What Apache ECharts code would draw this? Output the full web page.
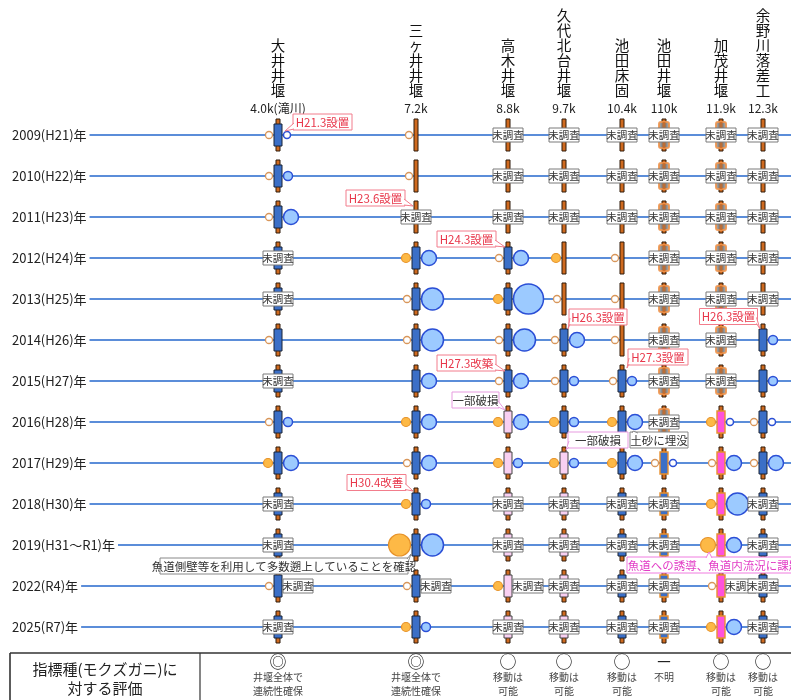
<!DOCTYPE html>
<html><head><meta charset="utf-8">
<script src="https://cdn.jsdelivr.net/npm/echarts@6/dist/echarts.min.js"></script>
<style>html,body{margin:0;padding:0;background:#fff}#c{width:791px;height:700px}</style>
</head><body><div id="c"></div>
<script>
// ---------- DATA ----------
const years = ['2009(H21)年','2010(H22)年','2011(H23)年','2012(H24)年','2013(H25)年','2014(H26)年','2015(H27)年','2016(H28)年','2017(H29)年','2018(H30)年','2019(H31～R1)年','2022(R4)年','2025(R7)年'];
const weirNames = ['大井井堰','三ヶ井井堰','高木井堰','久代北台井堰','池田床固','池田井堰','加茂井堰','余野川落差工'];
const weirKm = ['4.0k(滝川)','7.2k','8.8k','9.7k','10.4k','110k','11.9k','12.3k'];
// fishway type per year: N none, B fishway, P partly damaged, M new type, G old type, O buried
const fishwayType = [
  'BBBBBBBBBBBBB',
  'NNNBBBBBBBBBB',
  'NNNBBBBPPPPPP',
  'NNNNNBBBPPPPP',
  'NNNNNNBBBBBBB',
  'GGGGGGGGOOOOO',
  'GGGGGGGMMMMMM',
  'NNNNNBBBBBBBB'
];
// survey status: U unsurveyed, R upstream unsurveyed, - surveyed
const surveyStatus = [
  '---UU-U--UURU',
  '--U--------R-',
  'UUU------UURU',
  'UUU------UUUU',
  'UUU------UUUU',
  'UUUUUUUU-UUUU',
  'UUUUUUU----R-',
  'UUUUU----UUUU'
];
// downstream / upstream count classes (0 = none found, 1..4 = increasing), null = not shown
const n = null;
const downstream = [
  [0,0,0,n,n,0,n,0,1,n,n,0,n],
  [0,0,n,1,0,0,n,1,0,1,3,0,1],
  [n,n,n,0,1,0,0,1,1,n,n,1,n],
  [n,n,n,1,0,0,0,1,1,n,n,n,n],
  [n,n,n,0,0,0,0,1,1,n,n,n,n],
  [n,n,n,n,n,n,n,n,0,n,n,n,n],
  [n,n,n,n,n,n,n,1,0,1,2,0,1],
  [n,n,n,n,n,n,n,0,0,n,n,n,n]
];
const upstream = [
  [0,1,2,n,n,n,n,1,2,n,n,n,n],
  [n,n,n,2,3,3,2,2,2,1,3,n,1],
  [n,n,n,2,4,3,2,2,1,n,n,n,n],
  [n,n,n,n,n,2,1,1,1,n,n,n,n],
  [n,n,n,n,n,n,1,2,2,n,n,n,n],
  [n,n,n,n,n,n,n,n,0,n,n,n,n],
  [n,n,n,n,n,n,n,0,2,3,2,n,2],
  [n,n,n,n,n,1,1,0,2,n,n,n,n]
];
const noteTexts = ['H21.3設置','H23.6設置','H24.3設置','H26.3設置','H26.3設置','H27.3改築','H27.3設置','一部破損','一部破損','土砂に埋没','H30.4改善','魚道側壁等を利用して多数遡上していることを確認','魚道への誘導、魚道内流況に課題'];
const noteWeir = [0,1,2,3,7,2,4,2,3,5,1,1,6];
const noteYear = [0,2,3,5,5,6,6,7,8,8,9,10,10];
const noteKind = ['red','red','red','red','red','red','red','pink','pink','gray','red','gray','magenta'];
const evalSymbols = ['◎','◎','○','○','○','－','○','○'];
const evalTexts = ['井堰全体で\n連続性確保','井堰全体で\n連続性確保','移動は\n可能','移動は\n可能','移動は\n可能','不明','移動は\n可能','移動は\n可能'];
const evalTitle = '指標種(モクズガニ)に\n対する評価';

// ---------- LAYOUT / STYLE ----------
const FONT = "'Noto Sans CJK JP','Noto Sans',sans-serif";
const W = 791;
const weirX = [278, 416, 508, 564, 622, 664, 721, 763];
const radius = [3.5, 4.5, 7.5, 11, 15];
const BOX = {
  B: {fill:'#3b6fc7', stroke:'#1b2436', lw:1, w:8, h:22},
  P: {fill:'#f9d0f2', stroke:'#444', lw:1, w:8, h:22},
  M: {fill:'#ff52dc', stroke:'#e8902e', lw:1.4, w:8, h:22},
  O: {fill:'#3b6fc7', stroke:'#e8902e', lw:1.4, w:8, h:22},
  G: {fill:'rgba(140,140,140,0.85)', stroke:'rgba(238,150,80,0.9)', lw:2, w:10, h:26}
};
const NOTE_STYLE = {
  red: {text:'#e8364a', border:'#f27d8c'},
  pink: {text:'#333', border:'#e79be0'},
  gray: {text:'#333', border:'#888'},
  magenta: {text:'#e23cc6', border:'#f07ce0'}
};
// box centre offset (dx,dy) from anchor, width, tail tip offset (tx,ty)
const noteLayout = [
  {dx:44.5, dy:-13, w:59, tx:7, ty:-4},
  {dx:-40.5, dy:-19, w:59, tx:-3, ty:-11},
  {dx:-41.5, dy:-19, w:59, tx:-3, ty:-11},
  {dx:34, dy:-23, w:58, tx:4, ty:-11},
  {dx:-34.5, dy:-23.5, w:58, tx:-3, ty:-11},
  {dx:-41.5, dy:-18, w:59, tx:-3, ty:-10},
  {dx:36, dy:-24, w:60, tx:5, ty:-13},
  {dx:-32.5, dy:-22, w:47, tx:-3, ty:-12},
  {dx:34, dy:-23, w:60, tx:2, ty:-13},
  {dx:-5, dy:-23, w:58, tx:-31, ty:-32},
  {dx:-39.5, dy:-21.5, w:59, tx:-3, ty:-13},
  {dx:-132, dy:21, w:248, tx:-5, ty:9},
  {dx:-7, dy:20, w:174, tx:-12, ty:7}
];

function rect(x,y,w,h,fill,stroke,lw,r){
  return {type:'rect', shape:{x:x,y:y,width:w,height:h,r:r||0}, style:{fill:fill,stroke:stroke,lineWidth:lw}};
}
function tag(cx, cy){
  return {type:'group', children:[
    rect(cx-15, cy-7, 30, 14, '#fff', '#7a7a7a', 1),
    {type:'text', x:cx, y:cy+0.5, style:{text:'未調査', font:'10.5px '+FONT, fill:'#333', align:'center', verticalAlign:'middle'}}
  ]};
}
function dot(x, y, cls, side){
  const r = radius[cls];
  const hollow = cls === 0;
  const st = side === 'down'
    ? {fill: hollow ? '#fff' : '#fdb946', stroke: hollow ? '#d8965a' : '#e6922a', lineWidth: hollow ? 1.3 : 1.2}
    : {fill: hollow ? '#fff' : '#9ccaff', stroke:'#2b4fd6', lineWidth: 1.5};
  return {type:'circle', shape:{cx:x, cy:y, r:r}, style:st};
}

function renderCell(params, api){
  const w = api.value(2), r = api.value(1);
  const c = api.coord([api.value(0), r]);
  const cx = c[0], cy = c[1];
  const kids = [];
  const ft = fishwayType[w][r];
  kids.push(rect(cx-2, cy-16, 4, 32, '#cf6a1f', '#2e1a0a', 1));
  let half = 2;
  if (ft !== 'N'){
    const b = BOX[ft];
    kids.push(rect(cx-b.w/2, cy-b.h/2, b.w, b.h, b.fill, b.stroke, b.lw, ft==='G'?2:0));
    if (ft === 'G') kids.push(rect(cx-1.5, cy-13, 3, 26, 'rgba(200,100,30,0.75)', null, 0));
    half = b.w/2;
  }
  const s = surveyStatus[w][r];
  if (s === 'U'){
    kids.push(tag(cx, cy));
  } else {
    const d = downstream[w][r], u = upstream[w][r];
    if (d != null) kids.push(dot(cx - half - radius[d] - 1.5, cy, d, 'down'));
    if (u != null) kids.push(dot(cx + half + radius[u] + 1.5, cy, u, 'up'));
    if (s === 'R') kids.push(tag(cx + half + 16, cy));
  }
  return {type:'group', children:kids};
}

function renderNote(params, api){
  const i = api.value(2);
  const a = api.coord([api.value(0), api.value(1)]);
  const lay = noteLayout[i], st = NOTE_STYLE[noteKind[i]];
  const h = 16;
  const bx = a[0] + lay.dx - lay.w/2, by = a[1] + lay.dy - h/2;
  const tip = [a[0] + lay.tx, a[1] + lay.ty];
  let b1, b2;
  const clamp = (v,lo,hi)=>Math.max(lo,Math.min(hi,v));
  if (tip[0] < bx){ const yy = clamp(tip[1], by+4, by+h-4); b1=[bx+1,yy-3]; b2=[bx+1,yy+3]; }
  else if (tip[0] > bx+lay.w){ const yy = clamp(tip[1], by+4, by+h-4); b1=[bx+lay.w-1,yy-3]; b2=[bx+lay.w-1,yy+3]; }
  else if (tip[1] > by+h){ const xx = clamp(tip[0], bx+5, bx+lay.w-5); b1=[xx-3,by+h-1]; b2=[xx+3,by+h-1]; }
  else { const xx = clamp(tip[0], bx+5, bx+lay.w-5); b1=[xx-3,by+1]; b2=[xx+3,by+1]; }
  return {type:'group', children:[
    rect(bx, by, lay.w, h, '#fff', st.border, 1),
    {type:'polygon', shape:{points:[b1, tip, b2]}, style:{fill:'#fff', stroke:null}},
    {type:'polyline', shape:{points:[b1, tip, b2]}, style:{fill:null, stroke:st.border, lineWidth:1}},
    {type:'text', x:bx+lay.w/2, y:by+h/2+0.5, style:{text:noteTexts[i], font:'11.5px '+FONT, fill:st.text, align:'center', verticalAlign:'middle'}}
  ]};
}

const cellData = [];
weirNames.forEach((nm, w)=>years.forEach((y, r)=>cellData.push([weirX[w], r, w])));

const chart = echarts.init(document.getElementById('c'), null, {renderer:'canvas'});
chart.setOption({
  animation:false,
  backgroundColor:'#fff',
  grid:{left:0, right:0, top:114.5, height:533},
  xAxis:{type:'value', min:0, max:W, show:false},
  yAxis:{type:'category', data:years, inverse:true, show:false},
  graphic:[
    {type:'line', shape:{x1:10,y1:653,x2:W,y2:653}, style:{stroke:'#333', lineWidth:1.6}},
    {type:'line', shape:{x1:10,y1:653,x2:10,y2:700}, style:{stroke:'#333', lineWidth:1.6}},
    {type:'line', shape:{x1:200,y1:653,x2:200,y2:700}, style:{stroke:'#333', lineWidth:1.2}},
    {type:'text', x:105, y:679, style:{text:evalTitle, font:'15px '+FONT, lineHeight:19, fill:'#222', align:'center', verticalAlign:'middle'}}
  ],
  series:[
    { // river/year lines
      type:'custom', z:1, silent:true,
      data: years.map((y,i)=>[0,i]),
      renderItem:(p, api)=>{
        const p0 = api.coord([0, api.value(1)]), p1 = api.coord([W, api.value(1)]);
        return {type:'line', shape:{x1:p0[0],y1:p0[1],x2:p1[0],y2:p1[1]}, style:{stroke:'#5b8dd9', lineWidth:2}};
      }
    },
    { // year labels
      type:'custom', z:2, silent:true,
      data: years.map((y,i)=>[0,i]),
      renderItem:(p, api)=>{
        const c = api.coord([0, api.value(1)]);
        return {type:'text', x:c[0], y:c[1], style:{text:years[api.value(1)], font:'13px '+FONT, fill:'#222', align:'left', verticalAlign:'middle', backgroundColor:'#fff', padding:[3,3,3,12]}};
      }
    },
    { // weir headers + evaluation
      type:'custom', z:2, silent:true,
      data: weirX.map((x,i)=>[x,0,i]),
      renderItem:(p, api)=>{
        const i = api.value(2);
        const top = api.coord([api.value(0), 0]);
        const bot = api.coord([api.value(0), years.length-1]);
        return {type:'group', children:[
          {type:'text', x:top[0], y:top[1]-37, style:{text:weirNames[i].split('').join('\n'), font:'14.5px '+FONT, lineHeight:15, fill:'#111', align:'center', verticalAlign:'bottom'}},
          {type:'text', x:top[0], y:top[1]-27, style:{text:weirKm[i], font:'12px '+FONT, fill:'#222', align:'center', verticalAlign:'middle'}},
          {type:'text', x:bot[0], y:bot[1]+35, style:{text:evalSymbols[i], font:'17px '+FONT, fill:'#222', align:'center', verticalAlign:'middle'}},
          {type:'text', x:bot[0], y:bot[1]+43, style:{text:evalTexts[i], font:'10px '+FONT, lineHeight:14, fill:'#444', align:'center', verticalAlign:'top'}}
        ]};
      }
    },
    { // weirs, fishways, counts
      type:'custom', z:3, silent:true,
      data: cellData,
      renderItem: renderCell
    },
    { // callouts
      type:'custom', z:4, silent:true,
      data: noteTexts.map((t,i)=>[weirX[noteWeir[i]], noteYear[i], i]),
      renderItem: renderNote
    }
  ]
});
</script></body></html>
